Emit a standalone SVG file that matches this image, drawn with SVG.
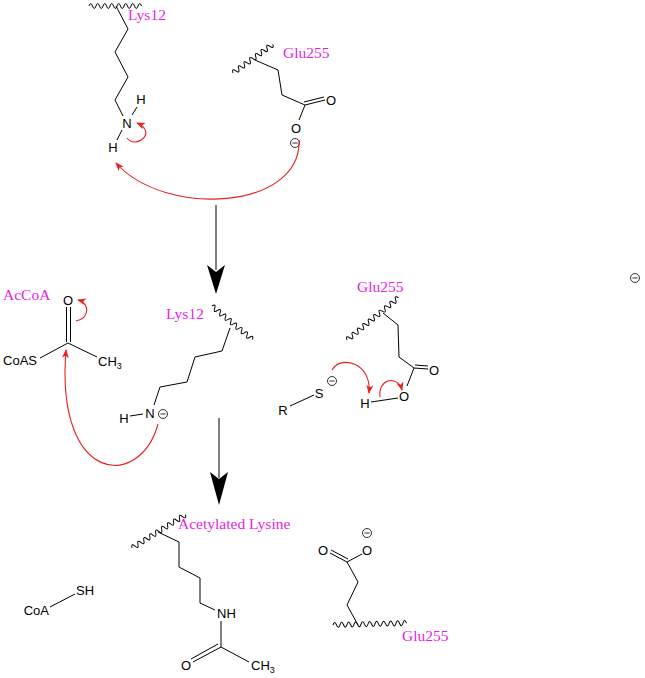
<svg xmlns="http://www.w3.org/2000/svg" width="645" height="678" viewBox="0 0 645 678">
<style>
.b{stroke:#000;stroke-width:1;fill:none}
.w{stroke:#000;stroke-width:1;fill:none}
.r{stroke:#e82020;stroke-width:1.1;fill:none;marker-end:url(#rh)}
.a{font-family:"Liberation Sans",Arial,sans-serif;font-size:13px;fill:#000}
.s{font-size:9px}
.m{font-family:"Liberation Serif","Times New Roman",serif;font-size:15.5px;fill:#e61ee6}
.mc{stroke:#000;stroke-width:0.8;fill:none}
</style>
<defs>
<marker id="rh" markerUnits="userSpaceOnUse" markerWidth="10" markerHeight="8" refX="8" refY="3.5" orient="auto">
<path d="M0,0 L9,3.5 L0,7 L2.5,3.5 z" fill="#e82020"/>
</marker>
<g id="minus"><circle cx="0" cy="0" r="4.5" class="mc"/><line x1="-2.6" y1="0" x2="2.6" y2="0" class="mc"/></g>
</defs>
<rect width="645" height="678" fill="#fff"/>

<g id="lys-top">
<path class="w" transform="translate(89,6)" d="M0,0q1.75,-5 3.5,0t3.5,0t3.5,0t3.5,0t3.5,0t3.5,0t3.5,0t3.5,0t3.5,0t3.5,0t3.5,0t3.5,0t3.5,0t3.5,0t3.5,0"/>
<polyline class="b" points="116,6 128,29 115,52 128,77 115,100 123,116"/>
<line class="b" x1="132" y1="115" x2="137" y2="107"/>
<line class="b" x1="122" y1="130" x2="117" y2="140"/>
<text class="a" x="127" y="128" text-anchor="middle">N</text>
<text class="a" x="141" y="104" text-anchor="middle">H</text>
<text class="a" x="113" y="152" text-anchor="middle">H</text>
<text class="m" x="128" y="20">Lys12</text>
</g>

<g id="glu-top">
<path class="w" transform="translate(233,73) rotate(-35.7)" d="M0,0q1.75,-5 3.5,0t3.5,0t3.5,0t3.5,0t3.5,0t3.5,0t3.5,0t3.5,0t3.5,0t3.5,0t3.5,0t3.5,0t3.5,0t3.5,0"/>
<polyline class="b" points="255,60 278,70 282,95 305,105"/>
<line class="b" x1="305" y1="105" x2="325" y2="100"/>
<line class="b" x1="304" y1="102" x2="324" y2="97"/>
<line class="b" x1="305" y1="105" x2="299" y2="120"/>
<text class="a" x="331" y="105" text-anchor="middle">O</text>
<text class="a" x="296" y="133" text-anchor="middle">O</text>
<use href="#minus" x="295" y="143"/>
<text class="m" x="283" y="58">Glu255</text>
</g>

<g id="acetylcoa">
<text class="m" x="3" y="300">AcCoA</text>
<text class="a" x="68" y="305" text-anchor="middle">O</text>
<line class="b" x1="66.5" y1="307" x2="66.5" y2="342"/>
<line class="b" x1="70.5" y1="307" x2="70.5" y2="342"/>
<line class="b" x1="68" y1="343" x2="40" y2="358"/>
<line class="b" x1="68" y1="343" x2="97" y2="357"/>
<text class="a" x="37" y="365" text-anchor="end">CoAS</text>
<text class="a" x="98" y="366">CH<tspan class="s" dy="3">3</tspan></text>
</g>

<g id="lys-mid">
<text class="m" x="166" y="319">Lys12</text>
<path class="w" transform="translate(212,306) rotate(39.7)" d="M0,0q1.75,-5 3.5,0t3.5,0t3.5,0t3.5,0t3.5,0t3.5,0t3.5,0t3.5,0t3.5,0t3.5,0t3.5,0t3.5,0t3.5,0t3.5,0t3.5,0"/>
<polyline class="b" points="230,328 222,351 195,357 187,382 160,387 154,405"/>
<line class="b" x1="130" y1="416" x2="143" y2="414"/>
<text class="a" x="150" y="418" text-anchor="middle">N</text>
<text class="a" x="124" y="423" text-anchor="middle">H</text>
<use href="#minus" x="163" y="414"/>
</g>

<g id="glu-mid">
<text class="m" x="357" y="292">Glu255</text>
<path class="w" transform="translate(347,340) rotate(-39.4)" d="M0,0q1.75,-5 3.5,0t3.5,0t3.5,0t3.5,0t3.5,0t3.5,0t3.5,0t3.5,0t3.5,0t3.5,0t3.5,0t3.5,0t3.5,0t3.5,0t3.5,0t3.5,0t3.5,0t3.5,0t3.5,0"/>
<polyline class="b" points="383,313 398,325 399,357 414,368"/>
<line class="b" x1="414" y1="368" x2="428" y2="369"/>
<line class="b" x1="415" y1="365" x2="428" y2="366"/>
<line class="b" x1="414" y1="368" x2="407" y2="386"/>
<text class="a" x="434" y="375" text-anchor="middle">O</text>
<text class="a" x="404" y="401" text-anchor="middle">O</text>
<line class="b" x1="371" y1="402" x2="398" y2="398"/>
<text class="a" x="365" y="408" text-anchor="middle">H</text>
</g>

<g id="thiolate">
<text class="a" x="319" y="398" text-anchor="middle">S</text>
<use href="#minus" x="332" y="381"/>
<line class="b" x1="290" y1="406" x2="314" y2="395"/>
<text class="a" x="283" y="415" text-anchor="middle">R</text>
</g>

<g id="lys-acetyl">
<text class="m" x="178" y="529">Acetylated Lysine</text>
<path class="w" transform="translate(132,548) rotate(-31.9)" d="M0,0q1.75,-5 3.5,0t3.5,0t3.5,0t3.5,0t3.5,0t3.5,0t3.5,0t3.5,0t3.5,0t3.5,0t3.5,0t3.5,0t3.5,0t3.5,0t3.5,0t3.5,0t3.5,0t3.5,0"/>
<polyline class="b" points="158,532 179,542 179,567 200,578 200,603 215,610"/>
<text class="a" x="217" y="618">NH</text>
<line class="b" x1="221" y1="621" x2="221" y2="647"/>
<line class="b" x1="221" y1="647" x2="193" y2="662"/>
<line class="b" x1="218" y1="644" x2="191" y2="659"/>
<line class="b" x1="221" y1="647" x2="249" y2="662"/>
<text class="a" x="186" y="670" text-anchor="middle">O</text>
<text class="a" x="251" y="670">CH<tspan class="s" dy="3">3</tspan></text>
</g>

<g id="glu-bottom">
<text class="a" x="323" y="555" text-anchor="middle">O</text>
<text class="a" x="367" y="555" text-anchor="middle">O</text>
<use href="#minus" x="367" y="533"/>
<line class="b" x1="347" y1="562" x2="330" y2="553"/>
<line class="b" x1="348" y1="559" x2="331" y2="550"/>
<line class="b" x1="347" y1="562" x2="362" y2="554"/>
<polyline class="b" points="347,562 358,582 347,605 358,625"/>
<path class="w" transform="translate(333,625) rotate(-1.5)" d="M0,0q1.75,-5 3.5,0t3.5,0t3.5,0t3.5,0t3.5,0t3.5,0t3.5,0t3.5,0t3.5,0t3.5,0t3.5,0t3.5,0t3.5,0t3.5,0t3.5,0t3.5,0t3.5,0t3.5,0t3.5,0t3.5,0t3.5,0"/>
<text class="m" x="402" y="641">Glu255</text>
</g>

<g id="coash">
<text class="a" x="49" y="615" text-anchor="end">CoA</text>
<line class="b" x1="50" y1="607" x2="75" y2="594"/>
<text class="a" x="76" y="595">SH</text>
</g>

<g id="charge">
<use href="#minus" x="635" y="278"/>
</g>

<g id="connectors">
<line class="b" x1="216" y1="205" x2="216" y2="270"/>
<polygon points="216,294 207,265 216,272 225,265" fill="#000"/>
<line class="b" x1="219" y1="418" x2="219" y2="478"/>
<polygon points="219,505 210,472 219,479 228,472" fill="#000"/>
<path class="r" d="M127,138 C136,150 158,132 137,123"/>
<path class="r" d="M299,140 C302,210 165,218 116,163"/>
<path class="r" d="M76,321 C90,318 90,303 78,300"/>
<path class="r" d="M158,424 C140,490 55,485 66,350"/>
<path class="r" d="M332,370 C340,355 372,362 369,393"/>
<path class="r" d="M380,397 C378,378 398,375 402,390"/>
</g>
</svg>
